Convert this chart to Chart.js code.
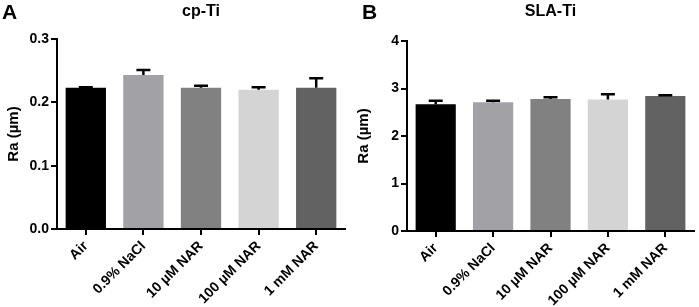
<!DOCTYPE html>
<html>
<head>
<meta charset="utf-8">
<script src="https://cdn.jsdelivr.net/npm/chart.js@4"></script>
<style>
  body { margin: 0; background: #fff; }
  .panel { position: absolute; top: 0; height: 307px; }
  .letter { position: absolute; top: 0; font: bold 21px "Liberation Sans", Arial, sans-serif; color: #000; }
</style>
</head>
<body>
<div class="panel" style="left:0;width:350px"><canvas id="chartA"></canvas></div>
<div class="panel" style="left:350px;width:349px"><canvas id="chartB"></canvas></div>
<div class="letter" style="left:2px">A</div>
<div class="letter" style="left:362px">B</div>
<script>
var categories = ["Air", "0.9% NaCl", "10 µM NAR", "100 µM NAR", "1 mM NAR"];
var cpTiValues = [0.223, 0.243, 0.223, 0.220, 0.223];
var cpTiErrors = [0.001, 0.008, 0.003, 0.004, 0.015];
var slaTiValues = [2.67, 2.71, 2.78, 2.77, 2.84];
var slaTiErrors = [0.07, 0.03, 0.035, 0.11, 0.02];
var barColors = ["#000000", "#a2a1a6", "#818181", "#d4d4d4", "#626262"];

var FONT = "'Liberation Sans', Arial, sans-serif";

var errorBars = {
  id: 'errorBars',
  afterDatasetsDraw: function(chart, args, opts) {
    var ctx = chart.ctx;
    var y = chart.scales.y;
    var meta = chart.getDatasetMeta(0);
    var vals = chart.data.datasets[0].data;
    ctx.save();
    ctx.strokeStyle = '#000';
    ctx.lineWidth = 2.5;
    meta.data.forEach(function(bar, i) {
      var top = y.getPixelForValue(vals[i] + opts.errors[i]);
      ctx.beginPath();
      ctx.moveTo(bar.x, bar.y);
      ctx.lineTo(bar.x, top);
      ctx.moveTo(bar.x - 7, top);
      ctx.lineTo(bar.x + 7, top);
      ctx.stroke();
    });
    ctx.restore();
  }
};

var plotTitle = {
  id: 'plotTitle',
  afterDraw: function(chart, args, opts) {
    var ctx = chart.ctx;
    var a = chart.chartArea;
    ctx.save();
    ctx.font = 'bold 16px ' + FONT;
    ctx.fillStyle = '#000';
    ctx.textAlign = 'center';
    ctx.textBaseline = 'middle';
    ctx.fillText(opts.text, (a.left + a.right) / 2, 12);
    ctx.restore();
  }
};

function makeChart(id, title, values, errors, maxY, step, decimals, top, xHeight) {
  var ctx = document.getElementById(id).getContext("2d");
  return new Chart(ctx, {
    type: 'bar',
    data: {
      labels: categories,
      datasets: [{
        data: values,
        backgroundColor: barColors,
        borderWidth: 0,
        categoryPercentage: 1,
        barPercentage: 0.7
      }]
    },
    plugins: [errorBars, plotTitle],
    options: {
      responsive: true,
      maintainAspectRatio: false,
      animation: false,
      layout: { padding: { top: top, right: 5, left: 0, bottom: 0 } },
      plugins: {
        legend: { display: false },
        tooltip: { enabled: false },
        errorBars: { errors: errors },
        plotTitle: { text: title }
      },
      scales: {
        x: {
          offset: true,
          afterFit: function(s) { s.height = xHeight; },
          grid: { offset: false, drawOnChartArea: false, drawTicks: true, tickLength: 6, color: '#000', lineWidth: 2 },
          border: { display: true, color: '#000', width: 2 },
          ticks: {
            color: '#000',
            font: { family: FONT, size: 14, weight: 'bold' },
            minRotation: 45,
            maxRotation: 45,
            autoSkip: false,
            padding: 3
          }
        },
        y: {
          min: 0,
          max: maxY,
          afterFit: function(s) { s.width = 57; },
          grid: { drawOnChartArea: false, drawTicks: true, tickLength: 6, color: '#000', lineWidth: 2 },
          border: { display: true, color: '#000', width: 2 },
          ticks: {
            stepSize: step,
            color: '#000',
            padding: 2,
            font: { family: FONT, size: 14, weight: 'bold' },
            callback: function(v) { return v.toFixed(decimals); }
          },
          title: {
            display: true,
            text: 'Ra (µm)',
            color: '#000',
            font: { family: FONT, size: 15, weight: 'bold' },
            padding: { top: 5, bottom: 0 }
          }
        }
      }
    }
  });
}

makeChart('chartA', 'cp-Ti', cpTiValues, cpTiErrors, 0.3, 0.1, 1, 39, 78);
makeChart('chartB', 'SLA-Ti', slaTiValues, slaTiErrors, 4, 1, 0, 41, 76);
</script>
</body>
</html>
